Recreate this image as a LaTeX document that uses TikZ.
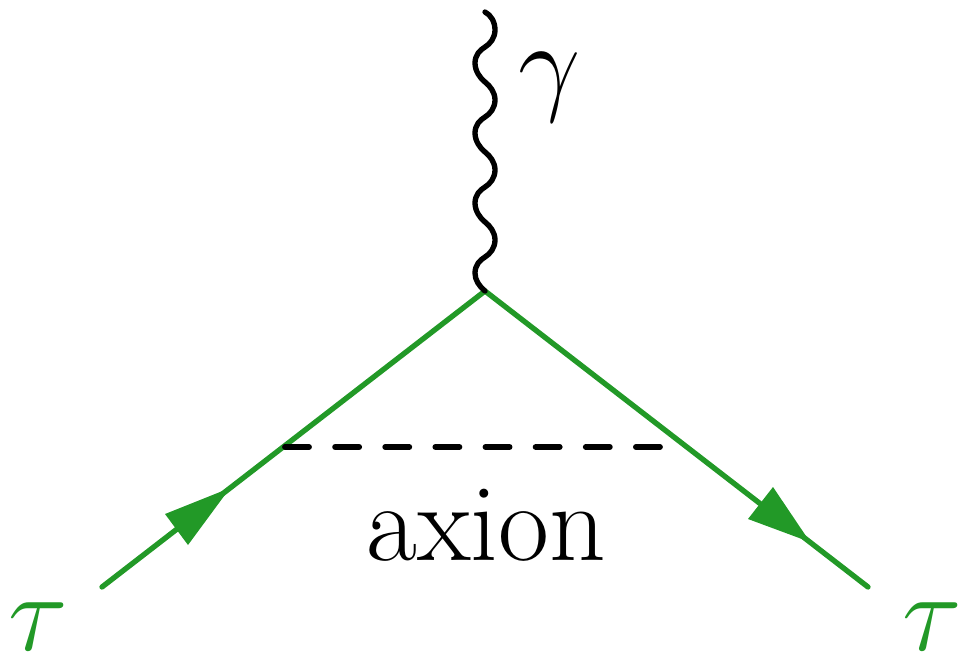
\documentclass[tikz,border=0pt]{standalone}
\usepackage{amsmath}
\definecolor{fgreen}{RGB}{34,153,39}
\tikzset{
  px/.style={x=0.75pt,y=-0.75pt},
  fermion/.style={draw=fgreen,line width=4pt,line cap=round},
  scalarline/.style={draw=black,line width=4.4pt,line cap=round,dash pattern=on 18pt off 19.6pt},
  photon/.style={draw=black,line width=4pt,line cap=round},
  arrowtip/.style={fill=fgreen,draw=none},
  lab/.style={inner sep=0pt,font=\fontsize{83}{83}\selectfont},
}
\newcommand{\bigmath}[1]{\scalebox{3.34}{$#1$}}
\begin{document}
\begin{tikzpicture}[px]
\useasboundingbox (0,0) rectangle (968,662);
\coordinate (top) at (485,12);
\coordinate (v) at (485,291);
\coordinate (a) at (102,587);
\coordinate (b) at (868,587);
\coordinate (c) at (285,447);
\coordinate (d) at (661,447);
\draw[fermion] (a) -- (v) -- (b);
\draw[scalarline] (c) -- (d);
\draw[photon] (top) .. controls (491,15) and (495,22) .. (495,30)
 .. controls (495,38) and (490,44) .. (485,47)
 .. controls (480,50) and (475,55) .. (475,63)
 .. controls (475,71) and (480,78) .. (485,82)
 .. controls (490,86) and (495,92) .. (495,100)
 .. controls (495,108) and (490,114) .. (485,117)
 .. controls (480,120) and (475,125) .. (475,133)
 .. controls (475,141) and (480,148) .. (485,152)
 .. controls (490,156) and (495,162) .. (495,170)
 .. controls (495,178) and (490,184) .. (485,187)
 .. controls (480,190) and (475,195) .. (475,203)
 .. controls (475,211) and (480,218) .. (485,222)
 .. controls (490,226) and (495,232) .. (495,240)
 .. controls (495,248) and (490,254) .. (485,257)
 .. controls (480,260) and (475,265) .. (475,273)
 .. controls (475,280) and (479,286) .. (485,291);
\fill[arrowtip] (230,488) -- (165,514) -- (188,545) -- cycle;
\fill[arrowtip] (810,542) -- (748,519) -- (773,487) -- cycle;
\node[lab,text=black] (gamma) at (550,87) {\bigmath{\gamma}};
\node[lab,text=black] (axion) at (486,525) {axion};
\node[lab,text=fgreen] (t1) at (38,627) {\bigmath{\tau}};
\node[lab,text=fgreen] (t2) at (932,627) {\bigmath{\tau}};
\end{tikzpicture}
\end{document}
